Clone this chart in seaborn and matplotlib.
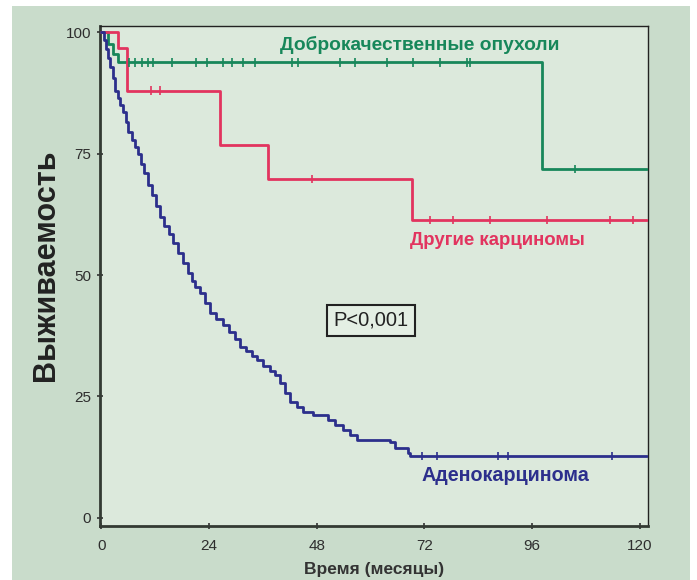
import numpy as np
import pandas as pd
import matplotlib
matplotlib.use("Agg")
import matplotlib.pyplot as plt
from matplotlib.patches import Rectangle
import seaborn as sns

# ---- data ----
benign_t = [0, 1.5, 2.5, 3.8, 98.2, 121.5]
benign_s = [100, 97.5, 95.5, 93.8, 71.8, 71.8]
benign_cens = [6.2, 7.5, 9.0, 10.3, 11.6, 15.8, 21.0, 23.6, 27.2, 29.2, 31.6, 34.3,
               42.5, 43.9, 53.2, 56.6, 63.7, 69.5, 75.5, 81.5, 82.2, 105.6]

other_t = [0, 3.6, 5.7, 26.5, 37.2, 69.3, 121.5]
other_s = [100, 96.7, 88.0, 76.7, 69.8, 61.3, 61.3]
other_cens = [11.0, 13.0, 47.0, 73.3, 78.4, 86.6, 99.3, 113.4, 118.5]

adeno_t = [0, 0.5, 1.0, 1.5, 2.0, 2.5, 3.1, 3.6, 4.2, 4.8, 5.4, 6.0, 6.8, 7.5, 8.2,
           8.8, 9.4, 10.3, 11.2, 12.1, 13.1, 14.0, 15.0, 16.0, 17.1, 18.2, 19.2,
           20.1, 20.9, 22.0, 23.1, 24.3, 25.6, 27.2, 28.4, 29.7, 31.0, 32.2, 33.5,
           34.7, 36.1, 37.5, 38.8, 39.9, 40.9, 42.1, 43.5, 45.0, 47.2, 50.6, 52.0,
           53.9, 55.5, 57.0, 64.4, 65.5, 68.4, 68.8, 121.5]
adeno_s = [100, 98.5, 96.5, 94.8, 92.8, 90.5, 88.0, 86.5, 85.0, 83.5, 81.5, 79.5,
           77.8, 76.4, 75.0, 72.8, 71.0, 68.6, 66.4, 64.2, 62.0, 60.1, 58.4, 56.6,
           54.5, 52.4, 50.4, 48.8, 47.5, 46.3, 44.2, 42.2, 41.0, 39.7, 38.3, 36.8,
           35.2, 34.3, 33.4, 32.5, 31.3, 30.3, 29.4, 27.8, 25.8, 23.9, 22.8, 21.8,
           21.2, 20.2, 19.2, 18.1, 17.0, 16.0, 15.6, 14.4, 13.4, 12.8, 12.8]
adeno_cens = [71.5, 74.8, 88.4, 90.6, 113.8]

x_ticks = [0, 24, 48, 72, 96, 120]
y_ticks = [0, 25, 50, 75, 100]

groups = ["Доброкачественные опухоли", "Другие карциномы", "Аденокарцинома"]
colors = {"Доброкачественные опухоли": "#17875a",
          "Другие карциномы": "#e2345f",
          "Аденокарцинома": "#2c2f8c"}

curves = pd.concat([
    pd.DataFrame({"t": benign_t, "S": benign_s, "g": groups[0]}),
    pd.DataFrame({"t": other_t, "S": other_s, "g": groups[1]}),
    pd.DataFrame({"t": adeno_t, "S": adeno_s, "g": groups[2]}),
], ignore_index=True)


def step_at(ts, ss, x):
    i = np.searchsorted(np.asarray(ts), x, side="right") - 1
    return ss[i]


cens_rows = []
for g, ts, ss, cs in [(groups[0], benign_t, benign_s, benign_cens),
                      (groups[1], other_t, other_s, other_cens),
                      (groups[2], adeno_t, adeno_s, adeno_cens)]:
    for c in cs:
        cens_rows.append({"t": c, "S": step_at(ts, ss, c), "g": g})
cens = pd.DataFrame(cens_rows)

# ---- figure ----
sns.set_theme(style="white")
plt.rcParams["font.family"] = ["Liberation Sans", "DejaVu Sans"]

fig = plt.figure(figsize=(6.97, 5.80), dpi=100)
fig.patch.set_facecolor("white")
panel = Rectangle((12 / 697, 0.0), (690 - 12) / 697, (580 - 6) / 580,
                  transform=fig.transFigure, facecolor="#c9dccb",
                  edgecolor="none", zorder=-10)
fig.patches.append(panel)
ax = fig.add_axes([100 / 697, 1 - 526 / 580, (648 - 100) / 697, (526 - 26) / 580])
ax.set_zorder(1)
ax.set_facecolor("#dce9dc")

sns.lineplot(data=curves, x="t", y="S", hue="g", palette=colors, estimator=None,
             drawstyle="steps-post", linewidth=2.0, legend=False, ax=ax, zorder=3)
sns.scatterplot(data=cens, x="t", y="S", hue="g", palette=colors, marker="|",
                s=35, linewidth=1.2, legend=False, ax=ax, zorder=4)

ax.set_xlim(-0.3, 121.8)
ax.set_ylim(-1.7, 101.3)
ax.set_xticks(x_ticks)
ax.set_yticks(y_ticks)
ax.tick_params(axis="both", direction="inout", length=5, width=1.2, color="#333333",
               labelsize=11, labelcolor="#2e2e2e", bottom=True, left=True)
ax.tick_params(axis="x", pad=7)
ax.tick_params(axis="y", pad=4)

for side in ["left", "bottom"]:
    ax.spines[side].set_linewidth(2.0)
    ax.spines[side].set_color("#333a33")
for side in ["top", "right"]:
    ax.spines[side].set_linewidth(1.0)
    ax.spines[side].set_color("#222222")

ax.set_xlabel("Время (месяцы)", fontsize=12.5, fontweight="bold", color="#333333",
              labelpad=6)
ax.set_ylabel("Выживаемость", fontsize=22, fontweight="bold", color="#222222")
ax.yaxis.set_label_coords(-0.072, 0.522)

ax.text(71.0, 97.3, groups[0], fontsize=13.8, fontweight="bold",
        color=colors[groups[0]], ha="center", va="center")
ax.text(88.2, 57.2, groups[1], fontsize=13.4, fontweight="bold",
        color=colors[groups[1]], ha="center", va="center")
ax.text(90.0, 8.8, groups[2], fontsize=14.2, fontweight="bold",
        color=colors[groups[2]], ha="center", va="center")
ax.text(60.1, 40.7, "P<0,001", fontsize=14.5, color="#222222",
        ha="center", va="center",
        bbox=dict(boxstyle="square,pad=0.3", facecolor="#e4efe4",
                  edgecolor="#222222", linewidth=1.5))

fig.savefig("out.png", dpi=100, facecolor=fig.get_facecolor())
